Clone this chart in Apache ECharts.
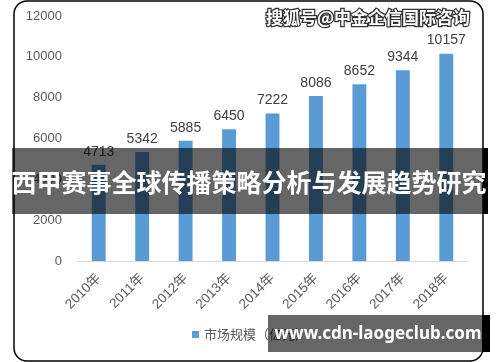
<!DOCTYPE html>
<html><head><meta charset="utf-8">
<script src="https://cdn.jsdelivr.net/npm/echarts@6/dist/echarts.min.js"></script>
<style>html,body{margin:0;padding:0;background:#fff}#c{width:500px;height:362px}</style>
</head><body><div id="c"></div>
<script>
var categories = ['2010年','2011年','2012年','2013年','2014年','2015年','2016年','2017年','2018年'];
var marketSize = [4713, 5342, 5885, 6450, 7222, 8086, 8652, 9344, 10157];
var seriesName = '市场规模（亿元）';
var bannerTitle = '西甲赛事全球传播策略分析与发展趋势研究';
var watermark = '搜狐号@中金企信国际咨询';
var siteText = 'www.cdn-laogeclub.com';

var chart = echarts.init(document.getElementById('c'));
var numFont = 'Liberation Sans, Noto Sans CJK SC, sans-serif';
chart.setOption({
  animation: false,
  grid: {left: 77, right: 32, top: 16, bottom: 101},
  legend: {
    bottom: 16, left: 'center', itemWidth: 7, itemHeight: 7, itemGap: 10,
    icon: 'rect',
    textStyle: {color: '#595959', fontSize: 13, fontFamily: 'Noto Sans CJK SC'},
    data: [seriesName]
  },
  xAxis: {
    type: 'category', data: categories,
    axisLine: {lineStyle: {color: '#d9d9d9', width: 1}},
    axisTick: {show: false},
    axisLabel: {rotate: 45, color: '#595959', fontSize: 13.5, margin: 15, fontFamily: numFont, interval: 0}
  },
  yAxis: {
    type: 'value', min: 0, max: 12000, interval: 2000,
    axisLine: {show: false}, axisTick: {show: false},
    splitLine: {show: false},
    axisLabel: {color: '#595959', fontSize: 13, margin: 15, fontFamily: numFont, formatter: function (v) { return String(v); }}
  },
  series: [{
    name: seriesName, type: 'bar', data: marketSize, barWidth: '32%',
    itemStyle: {color: '#5b9bd5'},
    label: {show: true, position: 'top', color: '#404040', fontSize: 14, fontFamily: numFont, distance: 6}
  }],
  graphic: [
    {type: 'rect', z: 100, shape: {x: 14, y: 1, width: 469, height: 360, r: 13}, style: {fill: 'none', stroke: '#000', lineWidth: 1.5}},
    {type: 'text', z: 110, style: {text: watermark, x: 368, y: 18, align: 'center', verticalAlign: 'middle', fill: '#fff', fontSize: 17, fontWeight: 'bold', fontFamily: 'Noto Sans CJK SC', stroke: '#333', lineWidth: 2.5}},
    {type: 'rect', z: 110, shape: {x: 12, y: 148, width: 476, height: 66}, style: {fill: 'rgba(0,0,0,0.6)'}},
    {type: 'rect', z: 111, shape: {x: 483, y: 148, width: 5, height: 66}, style: {fill: '#000'}},
    {type: 'text', z: 112, style: {text: bannerTitle, x: 249, y: 182, align: 'center', verticalAlign: 'middle', fill: '#fff', fontSize: 25, fontWeight: 'bold', fontFamily: 'Noto Sans CJK SC'}},
    {type: 'rect', z: 110, shape: {x: 268, y: 315, width: 214, height: 37}, style: {fill: 'rgba(0,0,0,0.6)'}},
    {type: 'rect', z: 111, shape: {x: 482, y: 315, width: 8, height: 37}, style: {fill: '#000'}},
    {type: 'text', z: 112, style: {text: siteText, x: 378, y: 334, align: 'center', verticalAlign: 'middle', fill: '#fff', fontSize: 17, fontWeight: 'bold', fontFamily: 'Noto Sans, sans-serif'}}
  ]
});
</script></body></html>
